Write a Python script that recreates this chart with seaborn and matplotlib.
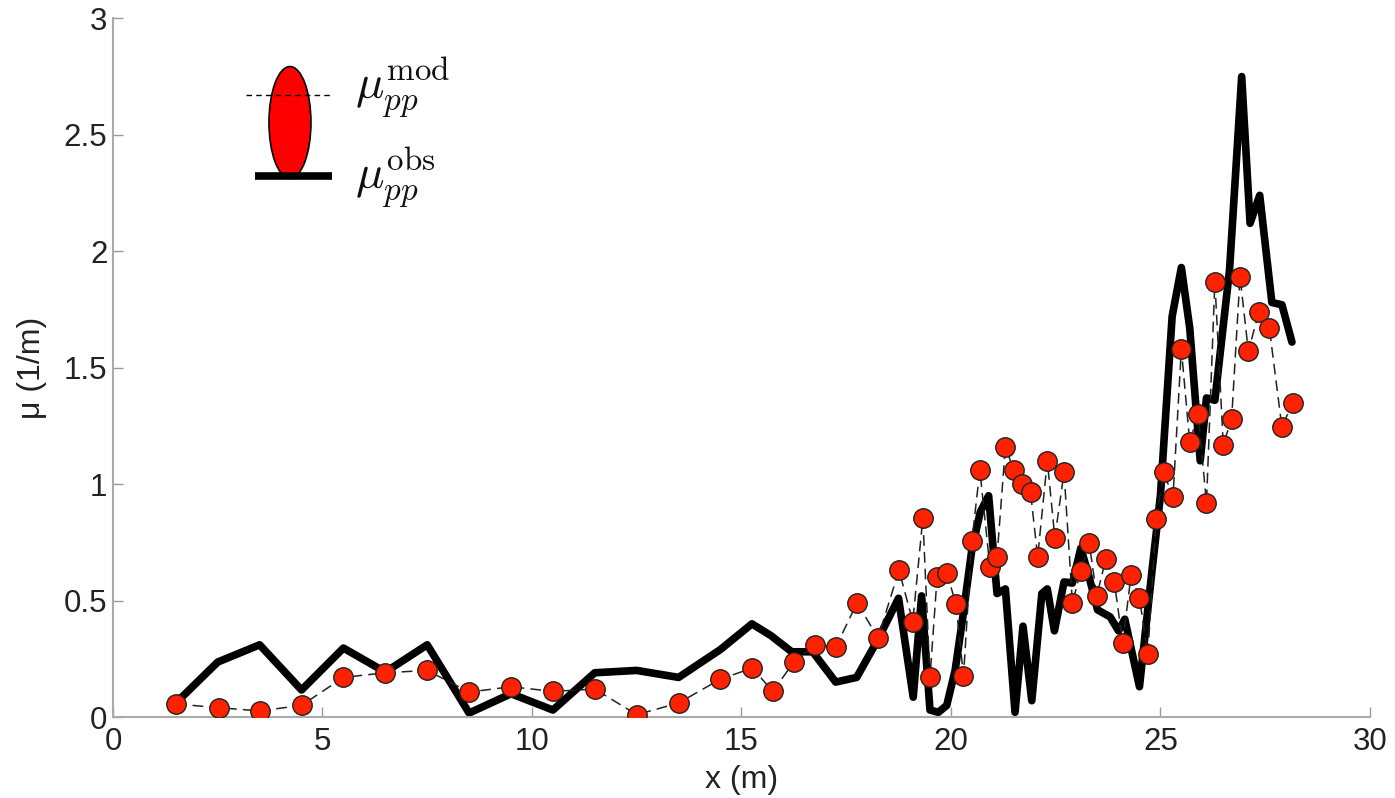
import matplotlib
matplotlib.use("Agg")
import matplotlib.pyplot as plt
import seaborn as sns
import numpy as np
import pandas as pd
from matplotlib.patches import Ellipse
from matplotlib.lines import Line2D

# Observed (thick black line)
obs_x = [1.5, 2.5, 3.5, 4.5, 5.5, 6.5, 7.5, 8.5, 9.5, 10.5, 11.5, 12.5, 13.5, 14.5,
         15.25, 15.7, 16.2, 16.7, 17.25, 17.75, 18.25, 18.75, 19.1, 19.3, 19.5, 19.7,
         19.9, 20.1, 20.3, 20.5, 20.7, 20.9, 21.1, 21.3, 21.53, 21.72, 21.93, 22.17,
         22.3, 22.47, 22.7, 22.9, 23.1, 23.3, 23.5, 23.8, 24.0, 24.15, 24.5, 24.8,
         25.0, 25.28, 25.5, 25.7, 25.95, 26.1, 26.3, 26.65, 26.94, 27.14, 27.37,
         27.66, 27.9, 28.14]
obs_y = [0.06, 0.236, 0.31, 0.116, 0.296, 0.193, 0.31, 0.017, 0.10, 0.03, 0.19, 0.20,
         0.17, 0.29, 0.40, 0.35, 0.28, 0.28, 0.15, 0.17, 0.33, 0.51, 0.085, 0.52, 0.03,
         0.02, 0.05, 0.20, 0.45, 0.72, 0.88, 0.95, 0.53, 0.55, 0.02, 0.39, 0.07, 0.53,
         0.55, 0.37, 0.58, 0.575, 0.725, 0.60, 0.46, 0.43, 0.37, 0.42, 0.13, 0.63,
         0.95, 1.72, 1.93, 1.67, 1.10, 1.37, 1.36, 1.92, 2.75, 2.12, 2.24, 1.78,
         1.77, 1.61]

# Model (red circles, dashed line)
mod_x = [1.5, 2.53, 3.5, 4.5, 5.5, 6.5, 7.5, 8.5, 9.5, 10.5, 11.5, 12.5, 13.5, 14.5,
         15.26, 15.75, 16.25, 16.75, 17.25, 17.76, 18.26, 18.76, 19.09, 19.33, 19.5,
         19.67, 19.9, 20.12, 20.3, 20.5, 20.69, 20.93, 21.1, 21.3, 21.5, 21.7, 21.9,
         22.07, 22.3, 22.48, 22.7, 22.9, 23.1, 23.3, 23.48, 23.7, 23.9, 24.1, 24.3,
         24.5, 24.7, 24.9, 25.08, 25.3, 25.5, 25.7, 25.9, 26.1, 26.3, 26.5, 26.7,
         26.9, 27.1, 27.35, 27.6, 27.9, 28.16]
mod_y = [0.056, 0.04, 0.026, 0.05, 0.17, 0.19, 0.20, 0.107, 0.13, 0.11, 0.12, 0.01,
         0.06, 0.163, 0.21, 0.11, 0.236, 0.31, 0.30, 0.49, 0.34, 0.63, 0.41, 0.854,
         0.17, 0.60, 0.62, 0.485, 0.176, 0.755, 1.06, 0.644, 0.687, 1.16, 1.06, 1.0,
         0.966, 0.687, 1.10, 0.77, 1.05, 0.49, 0.627, 0.747, 0.52, 0.68, 0.58, 0.318,
         0.61, 0.51, 0.27, 0.85, 1.05, 0.944, 1.58, 1.18, 1.30, 0.92, 1.87, 1.17,
         1.28, 1.89, 1.57, 1.74, 1.67, 1.245, 1.35]

x_ticks = [0, 5, 10, 15, 20, 25, 30]
y_ticks = [0, 0.5, 1, 1.5, 2, 2.5, 3]
y_tick_labels = ["0", "0.5", "1", "1.5", "2", "2.5", "3"]

sns.set_style("ticks")
plt.rcParams["font.family"] = ["Liberation Sans", "DejaVu Sans"]
plt.rcParams["mathtext.fontset"] = "cm"

fig = plt.figure(figsize=(13.95, 7.98), dpi=100)
ax = fig.add_axes([0.081, 0.1015, 0.901, 0.8755])

obs_df = pd.DataFrame({"x": obs_x, "y": obs_y})
mod_df = pd.DataFrame({"x": mod_x, "y": mod_y})

sns.lineplot(data=obs_df, x="x", y="y", ax=ax, color="black", linewidth=5.5,
             sort=False, estimator=None, zorder=2)
sns.lineplot(data=mod_df, x="x", y="y", ax=ax, color="#222222", linewidth=1.1,
             linestyle=(0, (7, 4)), marker="o", markersize=14,
             markerfacecolor="#ff2200", markeredgecolor="#222222", markeredgewidth=1.0,
             sort=False, estimator=None, zorder=3)

ax.set_xlim(0, 30)
ax.set_ylim(0, 3)
ax.set_xticks(x_ticks)
ax.set_yticks(y_ticks)
ax.set_yticklabels(y_tick_labels)
ax.tick_params(direction="in", length=7, width=1, colors="#999999",
               labelcolor="#222222", labelsize=22.5)
ax.tick_params(axis="x", pad=7)
ax.tick_params(axis="y", pad=4)
for s in ["top", "right"]:
    ax.spines[s].set_visible(False)
for s in ["left", "bottom"]:
    ax.spines[s].set_color("#aaaaaa")
    ax.spines[s].set_linewidth(1.5)

ax.set_xlabel("x (m)", fontsize=23, color="#222222", labelpad=6)
ax.set_ylabel("μ (1/m)", fontsize=23, color="#222222", labelpad=12)

# Custom legend glyph
ell = Ellipse((0.1408, 0.851), 0.0334, 0.160, transform=ax.transAxes,
              facecolor="#ff0000", edgecolor="black", linewidth=1.2, zorder=5)
ax.add_patch(ell)
ax.add_line(Line2D([0.1058, 0.175], [0.890, 0.890], transform=ax.transAxes,
                   color="black", linewidth=1.0, linestyle=(0, (4, 3)), zorder=6))
ax.add_line(Line2D([0.113, 0.174], [0.774, 0.774], transform=ax.transAxes,
                   color="black", linewidth=5.5, solid_capstyle="butt", zorder=6))
ax.text(0.1925, 0.900, r"$\mu_{pp}^{\mathrm{mod}}$", transform=ax.transAxes,
        fontsize=34, va="center", ha="left", color="#111111")
ax.text(0.1925, 0.771, r"$\mu_{pp}^{\mathrm{obs}}$", transform=ax.transAxes,
        fontsize=34, va="center", ha="left", color="#111111")

fig.savefig("out.png", dpi=100)
